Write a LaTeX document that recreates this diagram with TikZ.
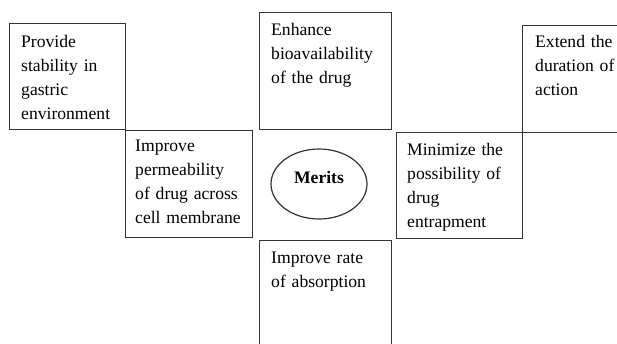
\documentclass[tikz,border=0pt]{standalone}
\usepackage{fontspec}
\setmainfont{Liberation Serif}
\usetikzlibrary{shapes.geometric}
\begin{document}
\begin{tikzpicture}[x=1pt,y=-1pt,
  boxline/.style={draw=black!80,line width=1.2pt},
  txt/.style={anchor=base west,inner sep=0pt,align=left,text width=120pt,
    font=\fontsize{17.6}{24}\selectfont,text=black}]
\clip (0,0) rectangle (617,343);
\fill[white] (0,0) rectangle (617,343);
% boxes
\node[boxline,rectangle,inner sep=0pt,anchor=north west,minimum width=116pt,minimum height=106pt] (b1) at (9,23) {};
\node[boxline,rectangle,inner sep=0pt,anchor=north west,minimum width=127pt,minimum height=107pt] (b2) at (125,130) {};
\node[boxline,rectangle,inner sep=0pt,anchor=north west,minimum width=132pt,minimum height=117pt] (b3) at (259,12) {};
\node[boxline,rectangle,inner sep=0pt,anchor=north west,minimum width=110pt,minimum height=107pt] (b4) at (522,25) {};
\node[boxline,rectangle,inner sep=0pt,anchor=north west,minimum width=126pt,minimum height=106pt] (b5) at (396,132) {};
\node[boxline,rectangle,inner sep=0pt,anchor=north west,minimum width=132pt,minimum height=120pt] (b6) at (259,240) {};
% texts
\node[txt] (t1) at ([xshift=12pt,yshift=-24pt]b1.north west) {Provide\\stability in\\gastric\\environment};
\node[txt] (t2) at ([xshift=10pt,yshift=-21pt]b2.north west) {Improve\\permeability\\of drug across\\cell membrane};
\node[txt] (t3) at ([xshift=12pt,yshift=-23pt]b3.north west) {Enhance\\bioavailability\\of the drug};
\node[txt] (t4) at ([xshift=13pt,yshift=-22pt]b4.north west) {Extend the\\duration of\\action};
\node[txt] (t5) at ([xshift=11pt,yshift=-23pt]b5.north west) {Minimize the\\possibility of\\drug\\entrapment};
\node[txt] (t6) at ([xshift=12pt,yshift=-23pt]b6.north west) {Improve rate\\of absorption};
% centre
\node[boxline,ellipse,inner sep=0pt,minimum width=96pt,minimum height=70pt] (m) at (319,184) {};
\node[inner sep=0pt,font=\fontsize{17.6}{24}\selectfont\bfseries,text=black] (mt) at (319,177) {Merits};
\end{tikzpicture}
\end{document}
